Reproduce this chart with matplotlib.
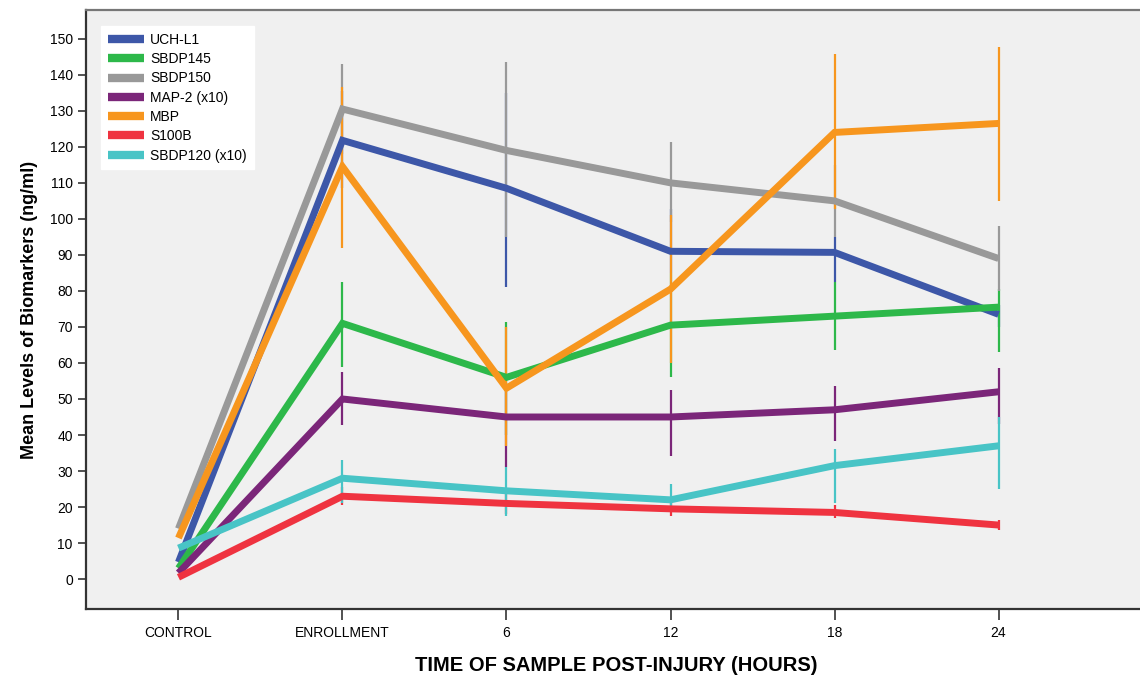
import numpy as np
import matplotlib.pyplot as plt

# time points
categories = ['CONTROL', 'ENROLLMENT', '6', '12', '18', '24']

# mean values (ng/ml)
uchl1 = [4.7, 121.8, 108.5, 91.0, 90.7, 73.5]
sbdp145 = [3.0, 71.0, 56.0, 70.5, 73.0, 75.5]
sbdp150 = [14.0, 130.5, 119.0, 110.0, 105.0, 89.0]
map2 = [1.7, 50.0, 45.0, 45.0, 47.0, 52.0]
mbp = [11.4, 114.5, 53.0, 80.5, 124.0, 126.5]
s100b = [0.5, 23.0, 21.0, 19.5, 18.5, 15.0]
sbdp120 = [8.6, 28.0, 24.5, 22.0, 31.5, 37.0]

# error bar extents (low, high); None where no bar is drawn
uchl1_err = [None, (108.6, 135.5), (81.0, 135.0), (85.0, 102.7), (82.6, 95.0), (70.0, 76.0)]
sbdp145_err = [None, (59.0, 82.6), (40.0, 71.5), (56.0, 85.0), (63.7, 82.6), (63.0, 80.5)]
sbdp150_err = [None, (118.0, 143.0), (95.0, 143.6), (99.0, 121.4), (95.0, 115.0), (80.0, 98.0)]
map2_err = [None, (42.9, 57.6), (31.0, 52.0), (34.2, 52.6), (38.4, 53.6), (43.0, 58.7)]
mbp_err = [None, (91.8, 136.6), (37.0, 70.0), (60.0, 101.0), (102.7, 145.8), (105.0, 147.8)]
s100b_err = [None, (20.5, 25.5), (18.0, 23.5), (17.5, 21.5), (17.0, 20.5), (13.5, 16.5)]
sbdp120_err = [None, (21.0, 33.0), (17.5, 31.0), (19.5, 26.5), (21.0, 36.0), (25.0, 45.0)]

series = [
    ('UCH-L1', uchl1, uchl1_err, '#3d57a8'),
    ('SBDP145', sbdp145, sbdp145_err, '#2db84a'),
    ('SBDP150', sbdp150, sbdp150_err, '#999999'),
    ('MAP-2 (x10)', map2, map2_err, '#7b2679'),
    ('MBP', mbp, mbp_err, '#f7961e'),
    ('S100B', s100b, s100b_err, '#ef3340'),
    ('SBDP120 (x10)', sbdp120, sbdp120_err, '#48c4c6'),
]

plt.rcParams['font.family'] = ['Liberation Sans', 'DejaVu Sans']

fig = plt.figure(figsize=(11.4, 6.78), dpi=100)
ax = fig.add_axes([0.0754, 0.1018, 0.93, 0.8835])
ax.set_facecolor('#f0f0f0')

x = np.arange(len(categories))

# error bars first, lines on top
for name, vals, errs, col in series:
    for xi, e in zip(x, errs):
        if e is not None:
            ax.vlines(xi, e[0], e[1], color=col, lw=1.6, zorder=2)

for name, vals, errs, col in series:
    ax.plot(x, vals, color=col, lw=5, label=name, zorder=3,
            solid_joinstyle='miter', solid_capstyle='butt')

ax.set_xlim(-0.564, 5.9)
ax.set_ylim(-8.3, 158)
ax.set_yticks(np.arange(0, 151, 10))
ax.set_xticks(x)
ax.set_xticklabels(categories, fontsize=10)
ax.tick_params(axis='y', labelsize=10, length=6, width=1.2, color='#333333')
ax.tick_params(axis='x', length=8, width=1.2, color='#333333', pad=4)

for s in ['left', 'bottom']:
    ax.spines[s].set_color('#333333')
    ax.spines[s].set_linewidth(1.6)
ax.spines['top'].set_color('#777777')
ax.spines['top'].set_linewidth(1.6)
ax.spines['right'].set_visible(False)

ax.set_ylabel('Mean Levels of Biomarkers (ng/ml)', fontsize=13, fontweight='bold', labelpad=8)
ax.set_xlabel('TIME OF SAMPLE POST-INJURY (HOURS)', fontsize=14.5, fontweight='bold',
              labelpad=12)

leg = ax.legend(loc='upper left', bbox_to_anchor=(0.008, 0.985), fontsize=10,
                frameon=True, fancybox=False, handlelength=2.6, handletextpad=0.4,
                labelspacing=0.38, borderpad=0.5)
leg.get_frame().set_facecolor('white')
leg.get_frame().set_edgecolor('white')
leg.get_frame().set_alpha(1)
for h in leg.get_lines():
    h.set_linewidth(6)

fig.savefig('out.png', dpi=100)
